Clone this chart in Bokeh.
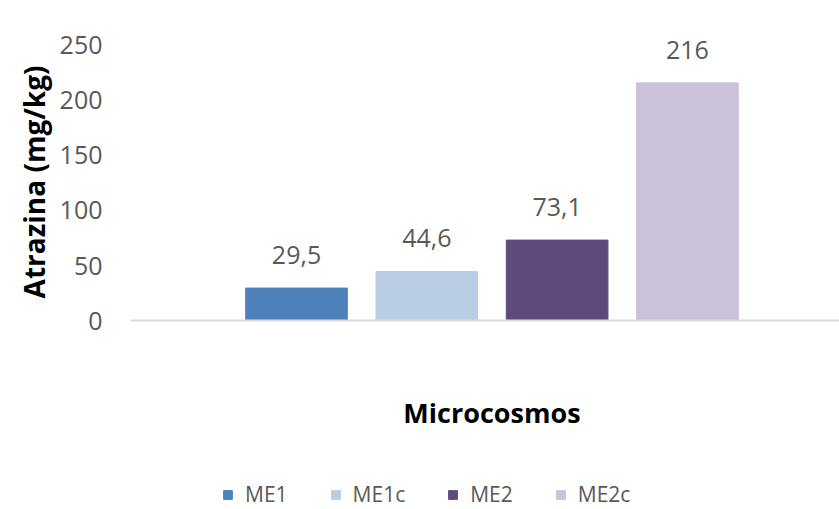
from bokeh.plotting import figure
from bokeh.models import ColumnDataSource, Range1d, FixedTicker, Legend, LegendItem, Title, Span, Label
from bokeh.core.properties import value
from bokeh.embed import file_html
from bokeh.resources import INLINE

categories = ["ME1", "ME1c", "ME2", "ME2c"]
values = [29.5, 44.6, 73.1, 216]
colors = ["#4f81bd", "#b9cde5", "#604a7b", "#ccc1da"]
y_ticks = [0, 50, 100, 150, 200, 250]
y_title = "Atrazina (mg/kg)"
x_title = "Microcosmos"

labels = [f"{v:g}".replace(".", ",") for v in values]
xs = list(range(len(categories)))

src = ColumnDataSource(dict(x=xs, top=values, color=colors, cat=categories, label=labels))

FONT = "Open Sans"
GRAY = "#595959"

p = figure(width=839, height=509, output_backend="svg", toolbar_location=None,
           x_range=Range1d(-1.274, 4.167), y_range=Range1d(-171.8, 281.8),
           min_border_left=130, min_border_right=0, min_border_top=10, min_border_bottom=0)
p.outline_line_color = None
p.background_fill_color = "white"
p.border_fill_color = "white"
p.xgrid.visible = False
p.ygrid.visible = False
p.xaxis.visible = False

r = p.vbar(x="x", top="top", width=0.78, color="color", source=src)

p.add_layout(Span(location=0, dimension="width", line_color="#d9d9d9", line_width=2))

p.text(x="x", y="top", text="label", source=src, text_align="center", text_baseline="bottom",
       y_offset=-24, text_font=value(FONT), text_font_size="25px", text_color=GRAY)

# y axis
ya = p.yaxis[0]
ya.ticker = FixedTicker(ticks=y_ticks)
ya.axis_line_color = None
ya.major_tick_line_color = None
ya.minor_tick_line_color = None
ya.major_label_standoff = 22
ya.major_label_text_font = FONT
ya.major_label_text_font_size = "25px"
ya.major_label_text_color = GRAY

yt = Title(text=y_title, align="right", offset=55, standoff=8,
           text_font=FONT, text_font_style="bold", text_font_size="28px", text_color="black")
p.add_layout(yt, "left")

p.add_layout(Label(x=1.5, y=-84, text=x_title, text_align="center", text_baseline="middle",
                   text_font=FONT, text_font_style="bold", text_font_size="27px", text_color="black"))

items = [LegendItem(label=c, renderers=[r], index=i) for i, c in enumerate(categories)]
legend = Legend(items=items, orientation="horizontal", location=(92, 1),
                label_text_font=FONT, label_text_font_size="21px", label_text_color=GRAY,
                glyph_width=11, glyph_height=11, spacing=42, label_standoff=12,
                border_line_color=None, background_fill_alpha=0, padding=0, margin=0)
p.add_layout(legend, "center")

open("out.html", "w").write(file_html(p, INLINE))
